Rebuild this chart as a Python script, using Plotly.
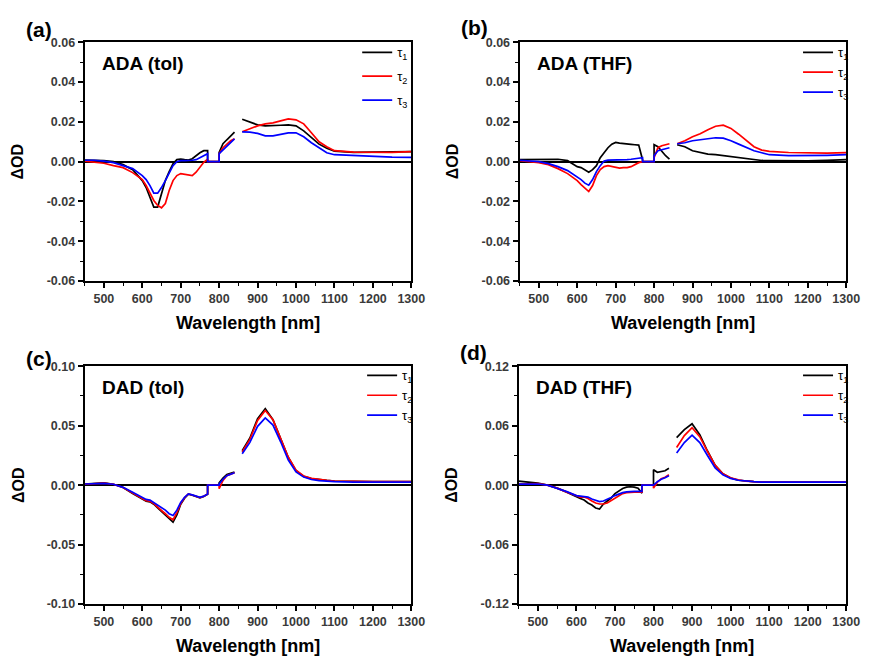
import plotly.graph_objects as go

# ---------------- data ----------------
# probe window 1 (visible), window 2 (NIR-1), window 3 (NIR-2); 770-800 flat zero, 840-860 no data
SEG1 = [450, 475, 500, 525, 550, 575, 600, 610, 620, 630, 640, 650, 660, 670, 680,
        690, 700, 710, 720, 730, 740, 750, 760, 770]
SEG2 = [800, 810, 820, 830, 840]
SEG3 = [860, 880, 900, 920, 940, 960, 980, 1000, 1020, 1040, 1060, 1080, 1100,
        1150, 1200, 1250, 1300]
BRIDGE_WL = [770, 800]
BRIDGE_VAL = [0.0, 0.0]
GAP_WL = 850

SERIES_NAMES = ["τ<sub>1</sub>", "τ<sub>2</sub>", "τ<sub>3</sub>"]
SERIES_COLORS = ["#000000", "#ff0000", "#0000ff"]

# (a) ADA (tol)
A1_1 = [0.0008, 0.0008, 0.0005, 0.0, -0.0015, -0.004, -0.0095, -0.013, -0.018, -0.0228, -0.0228,
        -0.016, -0.0095, -0.005, -0.001, 0.001, 0.0013, 0.001, 0.0008, 0.0015, 0.003, 0.0045, 0.0055, 0.0055]
A1_2 = [0.0047, 0.009, 0.011, 0.013, 0.0148]
A1_3 = [0.0213, 0.020, 0.0185, 0.018, 0.018, 0.0183, 0.0185, 0.018, 0.0155, 0.012, 0.0088,
        0.0067, 0.0053, 0.0047, 0.0047, 0.0048, 0.005]
A2_1 = [0.0003, -0.0002, -0.0008, -0.002, -0.003, -0.0055, -0.009, -0.012, -0.016, -0.0195, -0.022,
        -0.0232, -0.021, -0.0145, -0.0095, -0.007, -0.006, -0.0063, -0.0067, -0.007, -0.0053, -0.003, -0.0003, 0.0013]
A2_2 = [0.004, 0.007, 0.009, 0.0105, 0.0115]
A2_3 = [0.015, 0.0165, 0.018, 0.019, 0.0195, 0.0205, 0.0215, 0.021, 0.019, 0.0145, 0.010,
        0.0075, 0.0055, 0.0048, 0.0047, 0.0047, 0.005]
A3_1 = [0.0007, 0.0007, 0.0003, -0.0005, -0.002, -0.0035, -0.007, -0.009, -0.012, -0.0158, -0.0158,
        -0.013, -0.0095, -0.0055, -0.002, 0.0, 0.0005, 0.0005, 0.0005, 0.0007, 0.001, 0.002, 0.003, 0.004]
A3_2 = [0.004, 0.006, 0.008, 0.0095, 0.0115]
A3_3 = [0.015, 0.0148, 0.0142, 0.013, 0.013, 0.0138, 0.0145, 0.0145, 0.0125, 0.0095, 0.007,
        0.0045, 0.0035, 0.003, 0.0025, 0.0023, 0.0022]

# (b) ADA (THF)
B1_1 = [0.001, 0.001, 0.001, 0.001, 0.0012, 0.0005, -0.0025, -0.003, -0.004, -0.0053, -0.004,
        -0.002, 0.002, 0.0045, 0.007, 0.0088, 0.0097, 0.0093, 0.009, 0.0088, 0.0087, 0.0085, 0.0083, 0.001]
B1_2 = [0.0085, 0.0075, 0.005, 0.003, 0.0013]
B1_3 = [0.0085, 0.0075, 0.0055, 0.0045, 0.0038, 0.0035, 0.003, 0.0025, 0.002, 0.0013, 0.0008,
        0.0006, 0.0005, 0.0004, 0.0004, 0.0006, 0.001]
B2_1 = [0.0005, 0.0, -0.0005, -0.0015, -0.0035, -0.006, -0.0095, -0.0115, -0.0135, -0.015, -0.012,
        -0.007, -0.004, -0.0025, -0.002, -0.0025, -0.003, -0.0032, -0.003, -0.003, -0.0025, -0.0015, -0.0005, 0.0]
B2_2 = [0.002, 0.007, 0.008, 0.0085, 0.009]
B2_3 = [0.009, 0.0105, 0.0125, 0.014, 0.016, 0.0178, 0.0183, 0.0167, 0.0138, 0.0105, 0.0075,
        0.0058, 0.0052, 0.0046, 0.0043, 0.0043, 0.0045]
B3_1 = [0.0007, 0.0005, 0.0, -0.001, -0.0025, -0.0045, -0.0075, -0.009, -0.0108, -0.0118, -0.009,
        -0.005, -0.002, 0.0003, 0.0008, 0.0008, 0.0008, 0.0008, 0.0008, 0.001, 0.0012, 0.0015, 0.002, 0.002]
B3_2 = [0.003, 0.0055, 0.006, 0.0065, 0.007]
B3_3 = [0.009, 0.0095, 0.0105, 0.011, 0.0115, 0.012, 0.0118, 0.0105, 0.0088, 0.007, 0.0055,
        0.0045, 0.0035, 0.003, 0.003, 0.0032, 0.0035]

# (c) DAD (tol)
C1_1 = [0.001, 0.0015, 0.002, 0.0008, -0.002, -0.007, -0.012, -0.0135, -0.014, -0.016, -0.019,
        -0.022, -0.025, -0.028, -0.031, -0.025, -0.016, -0.011, -0.0075, -0.0085, -0.0096, -0.0107, -0.0095, -0.0077]
C1_2 = [0.002, 0.006, 0.009, 0.010, 0.011]
C1_3 = [0.029, 0.0397, 0.056, 0.0644, 0.055, 0.0397, 0.0233, 0.0123, 0.0074, 0.0055, 0.0045,
        0.004, 0.0035, 0.003, 0.003, 0.003, 0.003]
C2_1 = [0.0008, 0.001, 0.0018, 0.0008, -0.002, -0.0065, -0.0115, -0.013, -0.0135, -0.0155, -0.0185,
        -0.021, -0.024, -0.027, -0.029, -0.023, -0.0155, -0.0105, -0.0073, -0.0083, -0.0094, -0.0104, -0.0093, -0.0075]
C2_2 = [-0.003, 0.004, 0.008, 0.0095, 0.0105]
C2_3 = [0.028, 0.0385, 0.0545, 0.0628, 0.055, 0.0395, 0.0235, 0.0127, 0.0077, 0.0057, 0.0046,
        0.004, 0.0035, 0.003, 0.003, 0.003, 0.003]
C3_1 = [0.001, 0.0012, 0.0015, 0.0008, -0.0018, -0.006, -0.0105, -0.012, -0.0125, -0.0145, -0.017,
        -0.019, -0.021, -0.024, -0.0255, -0.021, -0.0145, -0.0102, -0.0073, -0.0082, -0.0092, -0.0102, -0.0092, -0.0075]
C3_2 = [0.001, 0.005, 0.008, 0.0095, 0.0105]
C3_3 = [0.0265, 0.036, 0.0495, 0.0565, 0.0505, 0.0365, 0.021, 0.0112, 0.0068, 0.0048, 0.0038,
        0.0032, 0.003, 0.0025, 0.0025, 0.0025, 0.0025]

# (d) DAD (THF)
D1_1 = [0.004, 0.003, 0.002, 0.0, -0.003, -0.007, -0.012, -0.0135, -0.015, -0.018, -0.02,
        -0.023, -0.024, -0.019, -0.016, -0.013, -0.0085, -0.006, -0.0033, -0.002, -0.0016, -0.002, -0.003, -0.008]
D1_2 = [0.0155, 0.013, 0.0135, 0.0145, 0.017]
D1_3 = [0.048, 0.056, 0.062, 0.051, 0.0345, 0.02, 0.0115, 0.0072, 0.005, 0.004, 0.0035,
        0.003, 0.003, 0.003, 0.003, 0.003, 0.003]
D2_1 = [0.001, 0.0015, 0.0015, 0.0, -0.003, -0.007, -0.011, -0.012, -0.012, -0.0135, -0.016,
        -0.018, -0.019, -0.019, -0.018, -0.0155, -0.013, -0.0105, -0.0085, -0.0075, -0.007, -0.007, -0.007, -0.007]
D2_2 = [-0.003, 0.003, 0.0065, 0.008, 0.0105]
D2_3 = [0.038, 0.05, 0.058, 0.049, 0.034, 0.02, 0.0115, 0.0075, 0.0055, 0.004, 0.0035,
        0.003, 0.003, 0.003, 0.003, 0.003, 0.003]
D3_1 = [0.001, 0.0012, 0.0012, 0.0, -0.003, -0.0065, -0.0105, -0.011, -0.011, -0.012, -0.014,
        -0.0155, -0.0165, -0.016, -0.0145, -0.0125, -0.0105, -0.0088, -0.0075, -0.0068, -0.0063, -0.0062, -0.0062, -0.0062]
D3_2 = [0.0, 0.0035, 0.006, 0.0075, 0.0095]
D3_3 = [0.0325, 0.043, 0.0505, 0.043, 0.03, 0.0175, 0.0105, 0.0068, 0.005, 0.004, 0.0035,
        0.003, 0.003, 0.003, 0.003, 0.003, 0.003]

PANEL_LABELS = ["(a)", "(b)", "(c)", "(d)"]
PANEL_TITLES = ["ADA (tol)", "ADA (THF)", "DAD (tol)", "DAD (THF)"]
X_TICKS = [500, 600, 700, 800, 900, 1000, 1100, 1200, 1300]
X_TICKTEXT = ["500", "600", "700", "800", "900", "1000", "1100", "1200", "1300"]
Y_TICKS_AB = [-0.06, -0.04, -0.02, 0.0, 0.02, 0.04, 0.06]
Y_TICKTEXT_AB = ["-0.06", "-0.04", "-0.02", "0.00", "0.02", "0.04", "0.06"]
Y_TICKS_C = [-0.10, -0.05, 0.0, 0.05, 0.10]
Y_TICKTEXT_C = ["-0.10", "-0.05", "0.00", "0.05", "0.10"]
Y_TICKS_D = [-0.12, -0.06, 0.0, 0.06, 0.12]
Y_TICKTEXT_D = ["-0.12", "-0.06", "0.00", "0.06", "0.12"]

PANEL_DATA = [
    [(A1_1, A1_2, A1_3), (A2_1, A2_2, A2_3), (A3_1, A3_2, A3_3)],
    [(B1_1, B1_2, B1_3), (B2_1, B2_2, B2_3), (B3_1, B3_2, B3_3)],
    [(C1_1, C1_2, C1_3), (C2_1, C2_2, C2_3), (C3_1, C3_2, C3_3)],
    [(D1_1, D1_2, D1_3), (D2_1, D2_2, D2_3), (D3_1, D3_2, D3_3)],
]


def build(v1, v2, v3):
    x = SEG1 + BRIDGE_WL + SEG2 + [GAP_WL] + SEG3
    y = v1 + BRIDGE_VAL + v2 + [None] + v3
    return x, y


# ---------------- layout ----------------
W, H = 876, 663
FONT = "Liberation Sans, Arial, sans-serif"


def fx(p):
    return p / W


def fy(p):
    return 1 - p / H


# plot boxes in reference pixels: (left, right, top, bottom)
BOXES = [(86, 418, 36, 280), (528, 860, 36, 280), (86, 418, 367, 610), (527, 860, 367, 610)]
YSPEC = [
    (Y_TICKS_AB, Y_TICKTEXT_AB, 0.01),
    (Y_TICKS_AB, Y_TICKTEXT_AB, 0.01),
    (Y_TICKS_C, Y_TICKTEXT_C, 0.025),
    (Y_TICKS_D, Y_TICKTEXT_D, 0.03),
]
LEG_POS = [(363, 31, 4), (811, 31, 0), (368, 361, 0), (811, 361, 0)]
LABEL_POS = [(40, 23), (482, 21), (40, 359), (481, 353)]

fig = go.Figure()
layout = dict(
    width=W, height=H, margin=dict(l=0, r=0, t=0, b=0), autosize=False,
    paper_bgcolor="white", plot_bgcolor="white",
    font=dict(family=FONT, color="black"),
    annotations=[],
)

for i in range(4):
    sfx = "" if i == 0 else str(i + 1)
    legname = "legend" if i == 0 else "legend" + str(i + 1)
    l, r, t, b = BOXES[i]
    for s in range(3):
        x, y = build(*PANEL_DATA[i][s])
        fig.add_trace(go.Scatter(
            x=x, y=y, mode="lines", name=SERIES_NAMES[s],
            line=dict(color=SERIES_COLORS[s], width=1.7),
            xaxis="x" + sfx, yaxis="y" + sfx, legend=legname,
            legendgroup="g%d_%d" % (i, s),
            connectgaps=False, showlegend=True,
        ))
    yt, ytt, ymin = YSPEC[i]
    tickfont = dict(family=FONT, size=12.5, color="#3a3a3a", weight="bold")
    layout["xaxis" + sfx] = dict(
        domain=[fx(l), fx(r)], anchor="y" + sfx, range=[450, 1300],
        tickvals=X_TICKS, ticktext=X_TICKTEXT,
        ticks="outside", ticklen=5, tickwidth=1.5, tickcolor="black",
        minor=dict(ticks="outside", ticklen=3, tickwidth=1.2, dtick=50, tick0=450, tickcolor="black"),
        showline=True, linecolor="black", linewidth=2, mirror=True,
        showgrid=False, zeroline=False, tickfont=tickfont,
    )
    layout["yaxis" + sfx] = dict(
        domain=[fy(b), fy(t)], anchor="x" + sfx, range=[yt[0], yt[-1]],
        tickvals=yt, ticktext=ytt,
        ticks="outside", ticklen=5, tickwidth=1.5, tickcolor="black",
        minor=dict(ticks="outside", ticklen=3, tickwidth=1.2, dtick=ymin, tick0=0, tickcolor="black"),
        showline=True, linecolor="black", linewidth=2, mirror=True,
        showgrid=False, zeroline=True, zerolinecolor="black", zerolinewidth=1.6,
        tickfont=tickfont,
    )
    lx, ly, gap = LEG_POS[i]
    layout[legname] = dict(
        x=fx(lx), y=fy(ly), xanchor="left", yanchor="top",
        bgcolor="rgba(0,0,0,0)", borderwidth=0,
        font=dict(family=FONT, size=13, color="black"),
        itemwidth=30, tracegroupgap=gap,
    )
    # inset title
    layout["annotations"].append(dict(
        text=PANEL_TITLES[i], x=fx(l + 16), y=fy(t + 22), xref="paper", yref="paper",
        xanchor="left", yanchor="middle", showarrow=False,
        font=dict(family=FONT, size=19, color="black", weight="bold"),
    ))
    # panel label
    px_, py_ = LABEL_POS[i]
    layout["annotations"].append(dict(
        text=PANEL_LABELS[i], x=fx(px_), y=fy(py_), xref="paper", yref="paper",
        xanchor="center", yanchor="middle", showarrow=False,
        font=dict(family=FONT, size=21, color="black", weight="bold"),
    ))
    # axis titles
    layout["annotations"].append(dict(
        text="Wavelength [nm]", x=fx((l + r) / 2), y=fy(b + 43), xref="paper", yref="paper",
        xanchor="center", yanchor="middle", showarrow=False,
        font=dict(family=FONT, size=18, color="black", weight="bold"),
    ))
    layout["annotations"].append(dict(
        text="ΔOD", x=fx(l - 68), y=fy((t + b) / 2), xref="paper", yref="paper",
        xanchor="center", yanchor="middle", showarrow=False, textangle=-90,
        font=dict(family=FONT, size=16, color="black", weight="bold"),
    ))

fig.update_layout(**layout)
fig.write_html(
    "out.html",
    config={"displayModeBar": False},
    post_script="document.body.style.margin='0';document.body.style.overflow='hidden';",
)
